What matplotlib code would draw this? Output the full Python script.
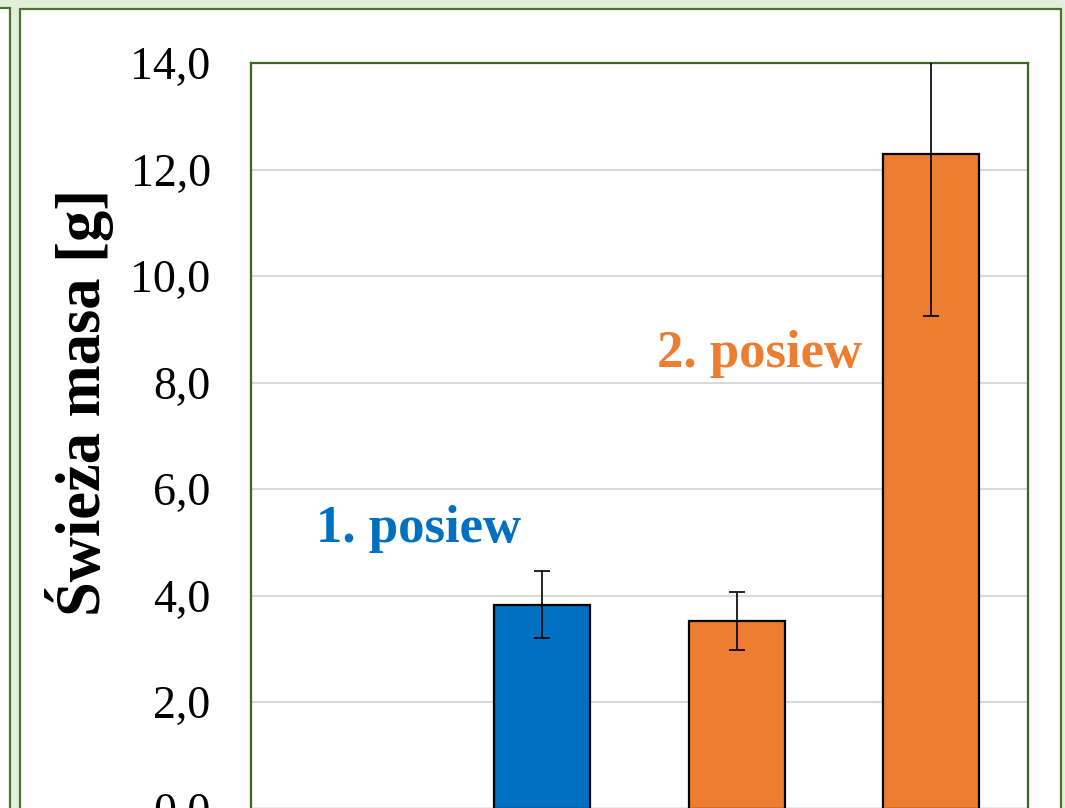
import numpy as np
import matplotlib
matplotlib.use("Agg")
import matplotlib.pyplot as plt
from matplotlib.patches import Rectangle

# ---- data ----
categories = ["", "1", "2", "3"]
values = [np.nan, 3.83, 3.52, 12.29]
errors = [np.nan, 0.63, 0.55, 3.05]
bar_colors = ["#0070C0", "#0070C0", "#ED7D31", "#ED7D31"]
yticks = [0, 2, 4, 6, 8, 10, 12, 14]
ytick_labels = ["0,0", "2,0", "4,0", "6,0", "8,0", "10,0", "12,0", "14,0"]
series_labels = ["1. posiew", "2. posiew"]
series_colors = ["#0070C0", "#ED7D31"]

W, H = 1065, 808
fig = plt.figure(figsize=(W / 100, H / 100), dpi=100)
fig.patch.set_facecolor("#E2EFDA")

border = "#4F7132"
# left neighbouring panel
fig.patches.append(Rectangle((-20 / W, -0.1), 29.5 / W, 1 + 0.1 - 8.5 / H,
                             transform=fig.transFigure, facecolor="white",
                             edgecolor=border, lw=1.6, zorder=-5))
# main white panel
fig.patches.append(Rectangle((19.5 / W, -0.1), (1061 - 19.5) / W, 1 + 0.1 - 9 / H,
                             transform=fig.transFigure, facecolor="white",
                             edgecolor=border, lw=1.6, zorder=-5))

ax = fig.add_axes([251 / W, -0.5 / H, 777 / W, 745.5 / H])
ax.set_facecolor("white")
x = np.arange(len(categories))
ax.bar(x, values, width=0.495, color=bar_colors, edgecolor="black", linewidth=1.6, zorder=3)
ax.errorbar(x, values, yerr=errors, fmt="none", ecolor="black", elinewidth=1.2,
            capsize=6, capthick=1.2, zorder=4)

ax.set_xlim(-0.5, len(categories) - 0.5)
ax.set_ylim(0, 14)
ax.set_yticks(yticks)
ax.set_yticklabels(ytick_labels, fontfamily="Liberation Serif", fontsize=33)
ax.tick_params(axis="y", length=0, pad=29)
ax.set_xticks([])
ax.yaxis.grid(True, color="#D9D9D9", lw=1.5, zorder=0)
ax.set_axisbelow(True)
for s in ax.spines.values():
    s.set_color("#3E6326")
    s.set_linewidth(1.6)

ax.text(0.36, 5.0, series_labels[0], color=series_colors[0], fontsize=38,
        fontweight="bold", fontfamily="Liberation Serif", ha="center", va="baseline")
ax.text(2.12, 8.29, series_labels[1], color=series_colors[1], fontsize=38,
        fontweight="bold", fontfamily="Liberation Serif", ha="center", va="baseline")

fig.text(80 / W, 1 - 402 / H, "Świeża masa [g]", rotation=90, ha="center", va="center",
         fontsize=45, fontweight="bold", fontfamily="Liberation Serif")

fig.savefig("out.png", dpi=100, facecolor=fig.get_facecolor())
